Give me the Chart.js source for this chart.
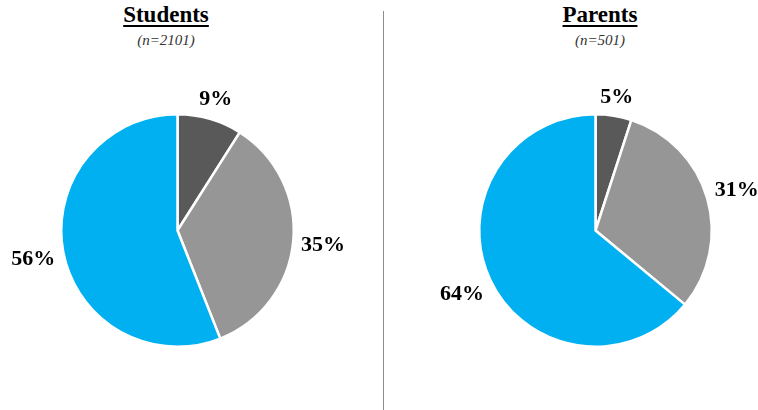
<!DOCTYPE html>
<html>
<head>
<meta charset="utf-8">
<script src="https://cdn.jsdelivr.net/npm/chart.js@4"></script>
<style>
  body { margin: 0; width: 758px; height: 410px; background: #fff; position: relative; overflow: hidden; font-family: "Liberation Serif", "Times New Roman", serif; }
  .title { position: absolute; width: 200px; text-align: center; font-weight: bold; font-size: 23px; text-decoration: underline; text-decoration-thickness: 2px; text-underline-offset: 3px; color: #000; top: 2px; }
  .sub { position: absolute; width: 200px; text-align: center; font-style: italic; font-size: 15px; color: #333; top: 32px; }
  .divider { position: absolute; left: 383px; top: 11px; width: 1px; height: 399px; background: #8c8c8c; }
  canvas { position: absolute; top: 0; }
</style>
</head>
<body>
<div class="title" style="left:66px">Students</div>
<div class="sub" style="left:66px">(n=2101)</div>
<div class="title" style="left:500px">Parents</div>
<div class="sub" style="left:500px">(n=501)</div>
<div class="divider"></div>
<div style="position:absolute;left:0;top:0;width:383px;height:410px"><canvas id="studentsChart"></canvas></div>
<div style="position:absolute;left:384px;top:0;width:374px;height:410px"><canvas id="parentsChart"></canvas></div>
<script>
// --- Data ---
const categories = ['Group A', 'Group B', 'Group C'];
const studentValues = [9, 35, 56];
const parentValues = [5, 31, 64];
const sliceColors = ['#595959', '#969696', '#00B0F0'];

// draws the percent labels outside each slice
const outsideLabels = {
    id: 'outsideLabels',
    afterDatasetsDraw(chart) {
        const ctx = chart.ctx;
        const meta = chart.getDatasetMeta(0);
        const data = chart.data.datasets[0].data;
        ctx.save();
        ctx.font = 'bold 22px "Liberation Serif", serif';
        ctx.fillStyle = '#000';
        ctx.textAlign = 'center';
        ctx.textBaseline = 'middle';
        meta.data.forEach((arc, i) => {
            const p = arc.getProps(['x', 'y', 'startAngle', 'endAngle', 'outerRadius'], true);
            const mid = (p.startAngle + p.endAngle) / 2;
            const dx = Math.cos(mid), dy = Math.sin(mid);
            const text = data[i] + '%';
            const w = ctx.measureText(text).width;
            const proj = Math.abs(dx) * w / 2 + Math.abs(dy) * 10;
            const dist = p.outerRadius + 7 + proj;
            ctx.fillText(text, p.x + dx * dist, p.y + dy * dist + 1);
        });
        ctx.restore();
    }
};

function makePie(id, values, padding) {
    const ctx = document.getElementById(id).getContext('2d');
    return new Chart(ctx, {
        type: 'pie',
        data: {
            labels: categories,
            datasets: [{ data: values, backgroundColor: sliceColors, borderColor: '#fff', borderWidth: 2.5 }]
        },
        options: {
            responsive: true,
            maintainAspectRatio: false,
            animation: false,
            layout: { padding: padding },
            plugins: { legend: { display: false }, tooltip: { enabled: false } }
        },
        plugins: [outsideLabels]
    });
}

makePie('studentsChart', studentValues, { left: 60, right: 88, top: 113, bottom: 62 });
makePie('parentsChart', parentValues, { left: 94, right: 45, top: 113, bottom: 62 });
</script>
</body>
</html>
